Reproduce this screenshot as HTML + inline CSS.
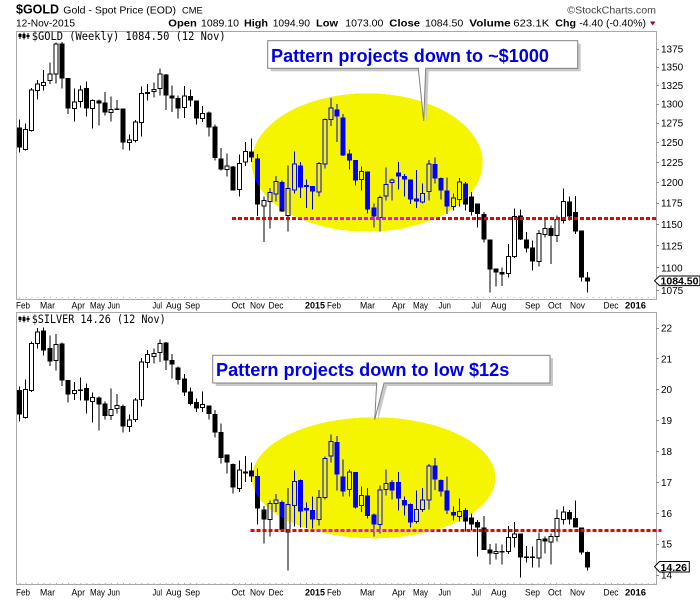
<!DOCTYPE html>
<html><head><meta charset="utf-8"><style>
html,body{margin:0;padding:0;background:#fff;}
svg{display:block;}
text{font-family:"Liberation Sans",Arial,sans-serif;}
.mono{font-family:"DejaVu Sans Mono","Liberation Mono",monospace;}
</style></head><body>
<svg width="700" height="600" viewBox="0 0 700 600" xmlns="http://www.w3.org/2000/svg">
<defs>
<clipPath id="ce1"><ellipse cx="367.2" cy="162.5" rx="115.5" ry="69.2"/></clipPath>
<clipPath id="ce2"><ellipse cx="373.7" cy="477.8" rx="121.7" ry="60.5"/></clipPath>
<g id="g1" shape-rendering="crispEdges">
<path fill="none" stroke="currentColor" stroke-width="1" d="M19.3 119.3V152.7M25.4 123.3V150.7M31.5 88V131.7M37.6 80V99.3M43.7 70V90.7M49.9 62.7V84M56 42.7V83.3M62.1 42V88.7M68.2 78V114M74.3 88.7V121.7M80.4 85.3V107.3M86.5 81.3V116.7M92.6 99.3V128.7M98.8 99.3V125.3M104.9 92V115.3M111 96.7V121.7M117.1 100V110M123.2 108.7V149.3M129.3 134.7V150.7M135.4 120V142.7M141.5 86.7V136.7M147.7 84V100.7M153.8 82.7V97.3M159.9 68.7V95.3M166 74V110M172.1 85.3V112M178.2 95.3V118.7M184.3 86V118M190.4 89.3V106.7M196.6 100.7V124.7M202.7 106V122M208.8 111.3V136.7M214.9 124.7V160.7M221 148V170.7M227.1 153.3V176.7M233.2 166V190.7M239.3 154.7V196.7M245.5 142V166M251.6 138.7V162M257.7 154V216M263.8 196.7V242M269.9 188V228.7M276 176V201.3M282.1 180.7V212M288.2 165.3V231.3M294.4 151.3V193.3M300.5 162V198M306.6 179.3V208M312.7 186V209.3M318.8 162V196.7M324.9 118.7V168.7M331 98V126M337.1 104V142M343.2 114V156M349.4 149.3V169.3M355.5 160V185.3M361.6 166.7V190.7M367.7 171.3V213.3M373.8 203.3V227.3M379.9 195.3V231.3M386 167.3V200.7M392.1 178.7V200.7M398.3 162V189.3M404.4 174V196.7M410.5 179.3V204M416.6 170V208M422.7 183.3V203.3M428.8 160V200.7M434.9 157.3V183.3M441 177.3V199.3M447.2 177.3V214M453.3 193.3V210.7M459.4 178V206.7M465.5 182V210.7M471.6 192V215.3M477.7 203.3V227.3M483.8 212V242.7M489.9 239.3V292.7M496.1 268.7V286.7M502.2 267.3V286M508.3 244V277.3M514.4 208.7V258M520.5 209.3V240M526.6 232V252.7M532.7 240.7V270.7M538.8 230V266.7M545 219.3V237.3M551.1 225.3V264M557.2 215.3V242M563.3 188.7V223.3M569.4 196.7V220.7M575.5 196V234M581.6 230.7V281.3M587.7 272V292.7"/>
<path fill="currentColor" d="M16.8 127.3h5V147.3h-5zM59.6 43.3h5V78.7h-5zM65.7 78h5V108.7h-5zM84 88h5V108.7h-5zM96.3 100.7h5V103.3h-5zM102.4 102.7h5V112.7h-5zM114.6 108.7h5V110h-5zM120.7 108.7h5V142.7h-5zM145.2 92h5V94h-5zM163.5 74.7h5V95.3h-5zM169.6 95.3h5V98.7h-5zM175.7 98h5V108.7h-5zM187.9 96h5V100.7h-5zM194.1 100.7h5V118.7h-5zM206.3 112.7h5V127.3h-5zM212.4 126.7h5V158h-5zM218.5 158.7h5V169.3h-5zM230.7 166.7h5V190.7h-5zM249.1 151.3h5V157.3h-5zM255.2 158.7h5V204.7h-5zM279.6 182h5V211.3h-5zM298 165.3h5V187.3h-5zM304.1 185h5V187h-5zM310.2 186h5V191.3h-5zM334.6 109.3h5V116.7h-5zM340.7 117.3h5V155.3h-5zM346.9 153.3h5V160.7h-5zM353 160h5V180.7h-5zM365.2 171.3h5V209.3h-5zM371.3 207.3h5V216.7h-5zM395.8 172.7h5V176.7h-5zM401.9 176h5V179.3h-5zM408 179.3h5V199.3h-5zM414.1 198.7h5V201.3h-5zM432.4 164h5V178.7h-5zM438.5 178h5V190.7h-5zM444.7 190.7h5V206.7h-5zM463 183.3h5V204.7h-5zM469.1 196.7h5V212h-5zM475.2 203.3h5V214h-5zM481.3 214h5V239.3h-5zM487.4 239.3h5V269.3h-5zM493.6 268.7h5V272.7h-5zM499.7 272h5V274.7h-5zM518 215.3h5V239.3h-5zM524.1 239.3h5V248.7h-5zM530.2 247.3h5V261.3h-5zM548.6 228h5V236h-5zM566.9 201.3h5V216.7h-5zM573 212h5V231.3h-5zM579.1 230.7h5V277.3h-5zM585.2 277.3h5V281.3h-5z"/>
<path stroke="currentColor" stroke-width="1" d="M23.4 129.3h4V149.3h-4zM29.5 90h4V130.7h-4zM35.6 84h4V90.7h-4zM41.7 82.7h4V85.3h-4zM47.9 74h4V80.7h-4zM54 44h4V74h-4zM72.3 102h4V108.7h-4zM78.4 90h4V101.3h-4zM90.6 100.7h4V108.7h-4zM109 109.3h4V112.7h-4zM127.3 140h4V142.7h-4zM133.4 122h4V140.7h-4zM139.5 93.3h4V122.7h-4zM151.8 89.3h4V91.3h-4zM157.9 74h4V88.7h-4zM182.3 96h4V107.3h-4zM200.7 113.3h4V118.7h-4zM225.1 166h4V169.3h-4zM237.3 163.3h4V189.3h-4zM243.5 151.3h4V162h-4zM261.8 200.7h4V206h-4zM267.9 192.7h4V201.3h-4zM274 181.3h4V194h-4zM286.2 188.7h4V215.3h-4zM292.4 164h4V190h-4zM316.8 163.3h4V192h-4zM322.9 119.3h4V164h-4zM329 108h4V119.3h-4zM359.6 171.3h4V179.3h-4zM377.9 197.3h4V217.3h-4zM384 184.7h4V196h-4zM390.1 180h4V182.7h-4zM420.7 193.3h4V202h-4zM426.8 164h4V191.3h-4zM451.3 198h4V206.7h-4zM457.4 182h4V199.3h-4zM506.3 256.7h4V273.3h-4zM512.4 216.7h4V256.7h-4zM536.8 233.3h4V261.3h-4zM543 228.7h4V234.7h-4zM555.2 219.3h4V235.3h-4zM561.3 201.3h4V220.7h-4z"/>
</g>
<g id="g2" shape-rendering="crispEdges">
<path fill="none" stroke="currentColor" stroke-width="1" d="M19.3 386.7V421.3M25.4 379.3V418.7M31.5 341.3V392M37.6 328V348.7M43.7 327.3V355.3M49.9 335.3V366M56 334V370.7M62.1 342.7V386M68.2 380V402.7M74.3 382V400M80.4 377.3V400.7M86.5 383.3V413.3M92.6 392.7V422.7M98.8 396.7V430.7M104.9 401.3V419.3M111 388.7V420M117.1 394V413.3M123.2 404.7V432.7M129.3 414.7V432M135.4 398V422M141.5 358V406.7M147.7 350V368M153.8 348.7V363.3M159.9 339.3V362M166 342V370M172.1 354V378.7M178.2 366.7V384.7M184.3 374V396M190.4 387.3V405.3M196.6 398.7V412M202.7 391.3V412M208.8 405.3V419.3M214.9 410V437.3M221 423.3V463.3M227.1 454.7V473.3M233.2 463.3V493.3M239.3 460.7V492M245.5 456V482M251.6 462.7V482M257.7 468.7V524.7M263.8 506V543.3M269.9 500.7V536.7M276 494V512M282.1 500.7V530M288.2 488V570.7M294.4 470.7V526.7M300.5 479.3V527.3M306.6 502.7V528M312.7 496.7V528.7M318.8 490V525.3M324.9 456.7V499.3M331 434.7V462.7M337.1 436V490.7M343.2 459.3V496.7M349.4 469.3V496.7M355.5 472V508.7M361.6 486.7V512M367.7 488V518.7M373.8 513.3V536.7M379.9 485.3V533.3M386 469.3V495.3M392.1 480V499.3M398.3 472V510.7M404.4 496.7V515.3M410.5 503.3V527.3M416.6 490.7V523.3M422.7 488V512M428.8 464V509.3M434.9 458V490M441 479.3V496.7M447.2 476.7V514M453.3 506.7V520.7M459.4 498.7V521.3M465.5 508V531.3M471.6 513.3V530.7M477.7 520V556.7M483.8 516V550M489.9 544V564.7M496.1 543.3V559.3M502.2 544.7V564.7M508.3 526V554M514.4 522V547.3M520.5 533.3V577.3M526.6 546V562.7M532.7 546.7V567.3M538.8 532.7V567.3M545 536.7V553.3M551.1 533.3V564.7M557.2 509.3V541.3M563.3 506.7V524.7M569.4 510V524.7M575.5 500.7V527.3M581.6 527.3V554.7M587.7 551.3V570.7"/>
<path fill="currentColor" d="M16.8 390h5V414.7h-5zM41.2 330.7h5V350.7h-5zM47.4 348h5V361.3h-5zM59.6 343.3h5V380.7h-5zM65.7 380h5V394.7h-5zM77.9 389.3h5V391h-5zM84 388h5V400.7h-5zM96.3 397.3h5V404.7h-5zM102.4 403.3h5V416h-5zM120.7 406h5V426.7h-5zM163.5 342.7h5V360.7h-5zM169.6 360h5V364.7h-5zM175.7 367.3h5V380h-5zM181.8 378.7h5V392.7h-5zM187.9 391.3h5V404h-5zM194.1 402h5V408.7h-5zM206.3 405.3h5V414h-5zM212.4 414h5V432.7h-5zM218.5 432h5V458h-5zM224.6 454.7h5V462.7h-5zM230.7 464h5V487.3h-5zM243 471.3h5V473.3h-5zM249.1 470.7h5V476.7h-5zM255.2 476h5V508.7h-5zM261.3 509.3h5V519.3h-5zM279.6 502h5V530h-5zM298 480h5V511.3h-5zM304.1 508h5V510.7h-5zM310.2 510h5V519.3h-5zM334.6 442h5V474.7h-5zM340.7 476.7h5V491.3h-5zM353 472h5V507.3h-5zM365.2 495.3h5V516h-5zM371.3 514.7h5V524.7h-5zM389.6 482h5V490.7h-5zM395.8 482h5V498.7h-5zM401.9 500h5V505.3h-5zM408 504h5V522.7h-5zM432.4 465.3h5V479.3h-5zM438.5 480h5V491.3h-5zM444.7 490.7h5V510.7h-5zM450.8 512h5V515.3h-5zM463 510h5V521.3h-5zM469.1 517.3h5V524.7h-5zM475.2 522h5V527.3h-5zM481.3 527.3h5V550h-5zM487.4 549.3h5V553.3h-5zM499.7 551h5V552.5h-5zM518 533.3h5V557.3h-5zM524.1 556.7h5V558h-5zM530.2 556.7h5V558h-5zM542.5 538.7h5V541.3h-5zM566.9 512h5V519.3h-5zM573 518h5V527.3h-5zM579.1 527.3h5V552.7h-5zM585.2 552h5V567.3h-5z"/>
<path stroke="currentColor" stroke-width="1" d="M23.4 389.3h4V417.3h-4zM29.5 343.3h4V390.7h-4zM35.6 332h4V343.3h-4zM54 344.7h4V360.7h-4zM72.3 390.7h4V393.3h-4zM90.6 397.3h4V401.3h-4zM109 409.3h4V415.3h-4zM115.1 405.3h4V408.7h-4zM127.3 420h4V426.7h-4zM133.4 400h4V419.3h-4zM139.5 362h4V399.3h-4zM145.7 354.7h4V362.7h-4zM151.8 353.3h4V356.7h-4zM157.9 343.3h4V352.7h-4zM200.7 404.7h4V407.3h-4zM237.3 470h4V488.7h-4zM267.9 503.3h4V519.3h-4zM274 500h4V503.3h-4zM286.2 504.7h4V532h-4zM292.4 481.3h4V505.3h-4zM316.8 497.3h4V519.3h-4zM322.9 458.7h4V497.3h-4zM329 441.3h4V456h-4zM347.4 472h4V489.3h-4zM359.6 495.3h4V505.3h-4zM377.9 490h4V524.7h-4zM384 483.3h4V489.3h-4zM414.6 509.3h4V521.3h-4zM420.7 500h4V509.3h-4zM426.8 466h4V500h-4zM457.4 511.3h4V516.7h-4zM494.1 551.3h4V553.3h-4zM506.3 537.3h4V551.3h-4zM512.4 534h4V537.3h-4zM536.8 539.3h4V558h-4zM549.1 536.7h4V542h-4zM555.2 518.7h4V536.7h-4zM561.3 512h4V519.3h-4z"/>
</g>
</defs>

<rect x="0" y="0" width="700" height="600" fill="#fff"/>

<!-- Header -->
<text x="16" y="13.3" font-size="13" font-weight="bold" textLength="43" lengthAdjust="spacingAndGlyphs">$GOLD</text>
<text x="63.3" y="13.3" font-size="10.5" textLength="112.7" lengthAdjust="spacingAndGlyphs">Gold - Spot Price (EOD)</text>
<text x="182" y="13.3" font-size="9.5" textLength="20.7" lengthAdjust="spacingAndGlyphs">CME</text>
<text x="567.3" y="13.3" font-size="10.5" fill="#444" textLength="88.7" lengthAdjust="spacingAndGlyphs">©StockCharts.com</text>
<text x="16" y="26.5" font-size="10.5" textLength="59" lengthAdjust="spacingAndGlyphs">12-Nov-2015</text>
<g font-size="10.5">
<text x="168.3" y="26.5" font-weight="bold" textLength="28.5" lengthAdjust="spacingAndGlyphs">Open</text>
<text x="201" y="26.5" textLength="38" lengthAdjust="spacingAndGlyphs">1089.10</text>
<text x="244" y="26.5" font-weight="bold" textLength="24" lengthAdjust="spacingAndGlyphs">High</text>
<text x="272.7" y="26.5" textLength="37.3" lengthAdjust="spacingAndGlyphs">1094.90</text>
<text x="316" y="26.5" font-weight="bold" textLength="22" lengthAdjust="spacingAndGlyphs">Low</text>
<text x="345.3" y="26.5" textLength="38" lengthAdjust="spacingAndGlyphs">1073.00</text>
<text x="389.3" y="26.5" font-weight="bold" textLength="30.7" lengthAdjust="spacingAndGlyphs">Close</text>
<text x="425" y="26.5" textLength="38.3" lengthAdjust="spacingAndGlyphs">1084.50</text>
<text x="469.3" y="26.5" font-weight="bold" textLength="41.4" lengthAdjust="spacingAndGlyphs">Volume</text>
<text x="513.3" y="26.5" textLength="36" lengthAdjust="spacingAndGlyphs">623.1K</text>
<text x="555.3" y="26.5" font-weight="bold" textLength="20.7" lengthAdjust="spacingAndGlyphs">Chg</text>
<text x="579.3" y="26.5" textLength="66.7" lengthAdjust="spacingAndGlyphs">-4.40 (-0.40%)</text>
</g>
<polygon points="650,21.5 655.5,21.5 652.75,25.5" fill="#990033"/>

<!-- Panels -->
<rect x="16.5" y="31.5" width="640" height="268" fill="#fff" stroke="#a8a8a8" stroke-width="1"/>
<rect x="16.5" y="312.5" width="640" height="272" fill="#fff" stroke="#a8a8a8" stroke-width="1"/>
<!-- bottom week ticks -->
<path stroke="#b0b0b0" stroke-width="1" stroke-dasharray="1 5.1" d="M19.3 298V300M19.3 297.5H656M19.3 583.5H656" fill="none"/>

<!-- Gold panel -->
<ellipse cx="367.2" cy="162.5" rx="115.5" ry="69.2" fill="#f5f500" shape-rendering="crispEdges"/>
<use href="#g1" color="#000" fill="#fff"/>
<use href="#g1" color="#0000ff" fill="#f5f500" clip-path="url(#ce1)"/>
<line x1="232" y1="218.5" x2="656" y2="218.5" stroke="#ee0000" stroke-width="3" stroke-dasharray="4 2" shape-rendering="crispEdges"/>
<line x1="232" y1="218.5" x2="656" y2="218.5" stroke="#ff00ff" stroke-width="3" stroke-dasharray="4 2" clip-path="url(#ce1)" shape-rendering="crispEdges"/>

<!-- Gold callout -->
<rect x="270.7" y="43.7" width="310" height="27.6" fill="#c8c8c8"/>
<polygon points="421.3,71 426.7,123 428.7,71" fill="#c8c8c8"/>
<rect x="267.7" y="40.7" width="310" height="27.6" fill="#fff" stroke="#808080" stroke-width="1"/>
<polygon points="418.3,68.3 423.7,121 425.7,68.3" fill="#fff" stroke="#808080" stroke-width="1"/>
<rect x="418.8" y="66.5" width="6.4" height="2.5" fill="#fff"/>
<text x="271" y="62" font-size="18" font-weight="bold" fill="#0000e6" textLength="278" lengthAdjust="spacingAndGlyphs">Pattern projects down to ~$1000</text>

<!-- Gold title -->
<g fill="#000">
<rect x="19.5" y="33" width="1" height="6"/><rect x="18.5" y="34" width="3" height="3"/>
<rect x="23.5" y="32.5" width="1" height="7"/><rect x="22.5" y="34" width="3" height="4"/>
<rect x="27.5" y="33" width="1" height="6"/><rect x="26.5" y="35" width="3" height="2"/>
</g>
<text x="31.7" y="40" class="mono" font-size="11.5" textLength="194" lengthAdjust="spacingAndGlyphs">$GOLD (Weekly) 1084.50 (12 Nov)</text>

<!-- Gold y axis -->
<g stroke="#888" stroke-width="1">
<path d="M656 49.5h3M656 67.5h3M656 85.5h3M656 104.5h3M656 123.5h3M656 142.5h3M656 162.5h3M656 182.5h3M656 203.5h3M656 224.5h3M656 245.5h3M656 267.5h3M656 290.5h3"/>
</g>
<g font-size="10" fill="#000">
<text x="661" y="52.5">1375</text>
<text x="661" y="70.5">1350</text>
<text x="661" y="88.8">1325</text>
<text x="661" y="107.5">1300</text>
<text x="661" y="126.6">1275</text>
<text x="661" y="146">1250</text>
<text x="661" y="165.8">1225</text>
<text x="661" y="186.1">1200</text>
<text x="661" y="206.7">1175</text>
<text x="661" y="227.8">1150</text>
<text x="661" y="249.4">1125</text>
<text x="661" y="271.4">1100</text>
<text x="661" y="294">1075</text>
</g>
<polygon points="654.5,280.8 659.5,276 700,276 700,285.6 659.5,285.6" fill="#fff" stroke="#000" stroke-width="1"/>
<text x="660.5" y="284.6" font-size="10.5" font-weight="bold" textLength="38" lengthAdjust="spacingAndGlyphs">1084.50</text>

<!-- Gold x axis -->
<g font-size="9.5" fill="#000" lengthAdjust="spacingAndGlyphs">
<text x="16" y="308.5" textLength="14" lengthAdjust="spacingAndGlyphs">Feb</text><text x="40" y="308.5" textLength="15" lengthAdjust="spacingAndGlyphs">Mar</text><text x="71.5" y="308.5" textLength="13.5" lengthAdjust="spacingAndGlyphs">Apr</text><text x="90" y="308.5" textLength="15" lengthAdjust="spacingAndGlyphs">May</text><text x="107.5" y="308.5" textLength="12.5" lengthAdjust="spacingAndGlyphs">Jun</text><text x="152.5" y="308.5" textLength="9.5" lengthAdjust="spacingAndGlyphs">Jul</text><text x="166" y="308.5" textLength="15.5" lengthAdjust="spacingAndGlyphs">Aug</text><text x="185" y="308.5" textLength="15" lengthAdjust="spacingAndGlyphs">Sep</text><text x="231.5" y="308.5" textLength="13.5" lengthAdjust="spacingAndGlyphs">Oct</text><text x="250" y="308.5" textLength="15" lengthAdjust="spacingAndGlyphs">Nov</text><text x="268.5" y="308.5" textLength="15" lengthAdjust="spacingAndGlyphs">Dec</text><text x="305" y="308.5" font-weight="bold" textLength="20" lengthAdjust="spacingAndGlyphs">2015</text><text x="327" y="308.5" textLength="14" lengthAdjust="spacingAndGlyphs">Feb</text><text x="360" y="308.5" textLength="15" lengthAdjust="spacingAndGlyphs">Mar</text><text x="392" y="308.5" textLength="13.5" lengthAdjust="spacingAndGlyphs">Apr</text><text x="413" y="308.5" textLength="15" lengthAdjust="spacingAndGlyphs">May</text><text x="438.5" y="308.5" textLength="12.5" lengthAdjust="spacingAndGlyphs">Jun</text><text x="471.5" y="308.5" textLength="9.5" lengthAdjust="spacingAndGlyphs">Jul</text><text x="491" y="308.5" textLength="15.5" lengthAdjust="spacingAndGlyphs">Aug</text><text x="525" y="308.5" textLength="15" lengthAdjust="spacingAndGlyphs">Sep</text><text x="548" y="308.5" textLength="13.5" lengthAdjust="spacingAndGlyphs">Oct</text><text x="570" y="308.5" textLength="15" lengthAdjust="spacingAndGlyphs">Nov</text><text x="603.5" y="308.5" textLength="15" lengthAdjust="spacingAndGlyphs">Dec</text><text x="625" y="308.5" font-weight="bold" textLength="21" lengthAdjust="spacingAndGlyphs">2016</text>
</g>

<!-- Silver panel -->
<ellipse cx="373.7" cy="477.8" rx="121.7" ry="60.5" fill="#f5f500" shape-rendering="crispEdges"/>
<use href="#g2" color="#000" fill="#fff"/>
<use href="#g2" color="#0000ff" fill="#f5f500" clip-path="url(#ce2)"/>
<line x1="250.7" y1="530.3" x2="661.5" y2="530.3" stroke="#ee0000" stroke-width="3" stroke-dasharray="4 2" shape-rendering="crispEdges"/>
<line x1="250.7" y1="530.3" x2="661.5" y2="530.3" stroke="#ff00ff" stroke-width="3" stroke-dasharray="4 2" clip-path="url(#ce2)" shape-rendering="crispEdges"/>

<!-- Silver callout -->
<rect x="215.7" y="358.3" width="337.3" height="27.7" fill="#c8c8c8"/>
<polygon points="379.7,386 377.7,421.7 387,386" fill="#c8c8c8"/>
<rect x="212.7" y="355.3" width="337.3" height="27.7" fill="#fff" stroke="#808080" stroke-width="1"/>
<polygon points="376.7,383 374.7,419.7 384,383" fill="#fff" stroke="#808080" stroke-width="1"/>
<rect x="377.2" y="381.2" width="6.3" height="2.5" fill="#fff"/>
<text x="216" y="376" font-size="18" font-weight="bold" fill="#0000e6" textLength="293.3" lengthAdjust="spacingAndGlyphs">Pattern projects down to low $12s</text>

<!-- Silver title -->
<g fill="#000">
<rect x="19.5" y="316" width="1" height="6"/><rect x="18.5" y="317" width="3" height="3"/>
<rect x="23.5" y="315.5" width="1" height="7"/><rect x="22.5" y="317" width="3" height="4"/>
<rect x="27.5" y="316" width="1" height="6"/><rect x="26.5" y="318" width="3" height="2"/>
</g>
<text x="31.7" y="323" class="mono" font-size="11.5" textLength="134" lengthAdjust="spacingAndGlyphs">$SILVER 14.26 (12 Nov)</text>

<!-- Silver y axis -->
<g stroke="#888" stroke-width="1">
<path d="M656 328.5h3M656 358.5h3M656 389.5h3M656 420.5h3M656 451.5h3M656 482.5h3M656 513.5h3M656 544.5h3M656 575.5h3"/>
</g>
<g font-size="10" fill="#000">
<text x="661" y="331.5">22</text>
<text x="661" y="362.3">21</text>
<text x="661" y="393.2">20</text>
<text x="661" y="424.1">19</text>
<text x="661" y="455">18</text>
<text x="661" y="485.9">17</text>
<text x="661" y="516.8">16</text>
<text x="661" y="547.7">15</text>
<text x="661" y="578.5">14</text>
</g>
<polygon points="654.5,566.6 659.5,561.5 689.3,561.5 689.3,572 659.5,572" fill="#fff" stroke="#000" stroke-width="1"/>
<text x="660.5" y="570.8" font-size="10.5" font-weight="bold" textLength="26.5" lengthAdjust="spacingAndGlyphs">14.26</text>

<!-- Silver x axis -->
<g font-size="9.5" fill="#000">
<text x="16" y="595.3" textLength="14" lengthAdjust="spacingAndGlyphs">Feb</text><text x="40" y="595.3" textLength="15" lengthAdjust="spacingAndGlyphs">Mar</text><text x="71.5" y="595.3" textLength="13.5" lengthAdjust="spacingAndGlyphs">Apr</text><text x="90" y="595.3" textLength="15" lengthAdjust="spacingAndGlyphs">May</text><text x="107.5" y="595.3" textLength="12.5" lengthAdjust="spacingAndGlyphs">Jun</text><text x="152.5" y="595.3" textLength="9.5" lengthAdjust="spacingAndGlyphs">Jul</text><text x="166" y="595.3" textLength="15.5" lengthAdjust="spacingAndGlyphs">Aug</text><text x="185" y="595.3" textLength="15" lengthAdjust="spacingAndGlyphs">Sep</text><text x="231.5" y="595.3" textLength="13.5" lengthAdjust="spacingAndGlyphs">Oct</text><text x="250" y="595.3" textLength="15" lengthAdjust="spacingAndGlyphs">Nov</text><text x="268.5" y="595.3" textLength="15" lengthAdjust="spacingAndGlyphs">Dec</text><text x="305" y="595.3" font-weight="bold" textLength="20" lengthAdjust="spacingAndGlyphs">2015</text><text x="327" y="595.3" textLength="14" lengthAdjust="spacingAndGlyphs">Feb</text><text x="360" y="595.3" textLength="15" lengthAdjust="spacingAndGlyphs">Mar</text><text x="392" y="595.3" textLength="13.5" lengthAdjust="spacingAndGlyphs">Apr</text><text x="413" y="595.3" textLength="15" lengthAdjust="spacingAndGlyphs">May</text><text x="438.5" y="595.3" textLength="12.5" lengthAdjust="spacingAndGlyphs">Jun</text><text x="471.5" y="595.3" textLength="9.5" lengthAdjust="spacingAndGlyphs">Jul</text><text x="491" y="595.3" textLength="15.5" lengthAdjust="spacingAndGlyphs">Aug</text><text x="525" y="595.3" textLength="15" lengthAdjust="spacingAndGlyphs">Sep</text><text x="548" y="595.3" textLength="13.5" lengthAdjust="spacingAndGlyphs">Oct</text><text x="570" y="595.3" textLength="15" lengthAdjust="spacingAndGlyphs">Nov</text><text x="603.5" y="595.3" textLength="15" lengthAdjust="spacingAndGlyphs">Dec</text><text x="625" y="595.3" font-weight="bold" textLength="21" lengthAdjust="spacingAndGlyphs">2016</text>
</g>
</svg>
</body></html>
